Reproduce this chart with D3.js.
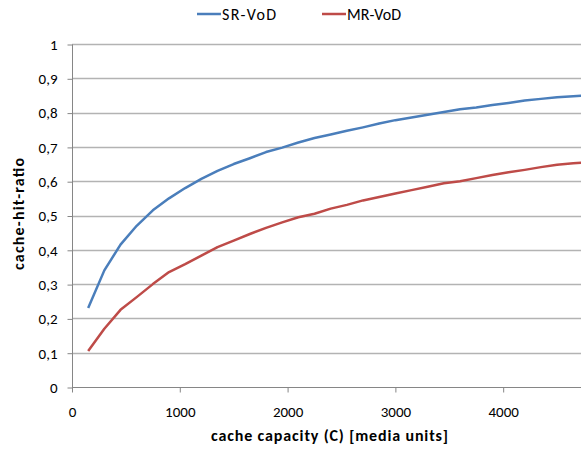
<!DOCTYPE html>
<html>
<head>
<meta charset="utf-8">
<script src="https://cdn.jsdelivr.net/npm/d3@7"></script>
<style>
  body { margin: 0; background: #fff; }
  svg text { font-family: Carlito, "Open Sans", "Liberation Sans", sans-serif; fill: #000; }
</style>
</head>
<body>
<div id="chart"></div>
<script>
// capacity steps (media units)
var capacity = [150, 300, 450, 600, 750, 900, 1050, 1200, 1350, 1500, 1650, 1800, 1950, 2100, 2250, 2400,
  2550, 2700, 2850, 3000, 3150, 3300, 3450, 3600, 3750, 3900, 4050, 4200, 4350, 4500, 4650, 4800];
var srVod = [0.23, 0.34, 0.415, 0.47, 0.515, 0.55, 0.58, 0.607, 0.63, 0.65, 0.667, 0.685, 0.698, 0.713, 0.726, 0.736,
  0.747, 0.757, 0.768, 0.778, 0.786, 0.794, 0.802, 0.81, 0.815, 0.822, 0.828, 0.835, 0.84, 0.845, 0.848, 0.851];
var mrVod = [0.105, 0.17, 0.225, 0.262, 0.3, 0.335, 0.358, 0.383, 0.408, 0.427, 0.446, 0.464, 0.48, 0.495, 0.505, 0.52,
  0.531, 0.544, 0.554, 0.564, 0.574, 0.584, 0.594, 0.6, 0.609, 0.618, 0.626, 0.633, 0.641, 0.648, 0.652, 0.656];
var seriesNames = ["SR-VoD", "MR-VoD"];
var seriesColors = ["#4a7ebb", "#be4b48"];
var xTicks = [0, 1000, 2000, 3000, 4000];
var yTicks = [0, 0.1, 0.2, 0.3, 0.4, 0.5, 0.6, 0.7, 0.8, 0.9, 1];

var width = 581, height = 457;
var plotLeft = 72, plotTop = 44, plotBottom = 387;

var svg = d3.select("#chart").append("svg")
  .attr("width", width).attr("height", height);

var x = d3.scaleLinear().domain([0, 4722]).range([plotLeft, width]);
var y = d3.scaleLinear().domain([0, 1]).range([plotBottom, plotTop]);

svg.append("defs").append("clipPath").attr("id", "plotclip")
  .append("rect").attr("x", plotLeft).attr("y", 0).attr("width", width - plotLeft).attr("height", height);

// gridlines
svg.append("g").selectAll("line").data(yTicks.slice(1)).enter().append("line")
  .attr("x1", plotLeft).attr("x2", width)
  .attr("y1", function(d){ return Math.round(y(d)) + 0.5; })
  .attr("y2", function(d){ return Math.round(y(d)) + 0.5; })
  .attr("stroke", "#b3b3b3").attr("stroke-width", 1.3);

// y axis
var yAxis = svg.append("g").attr("transform", "translate(" + (plotLeft + 0.5) + ",0.5)")
  .call(d3.axisLeft(y).tickValues(yTicks).tickSize(5).tickPadding(10)
    .tickFormat(function(d){ return d3.format("~g")(d).replace(".", ","); }));
yAxis.select(".domain").attr("stroke", "#868686").attr("d", "M0," + y(1) + "V" + y(0));
yAxis.selectAll(".tick line").attr("stroke", "#868686");
yAxis.selectAll("text").style("font-size", "15px");

// x axis
var xAxis = svg.append("g").attr("transform", "translate(0," + (plotBottom + 0.5) + ")")
  .call(d3.axisBottom(x).tickValues(xTicks).tickSize(5).tickPadding(14).tickFormat(d3.format("d")));
xAxis.select(".domain").attr("stroke", "#868686").attr("d", "M" + plotLeft + ",0H" + width);
xAxis.selectAll(".tick line").attr("stroke", "#868686");
xAxis.selectAll("text").style("font-size", "15px");

// lines
var line = d3.line()
  .x(function(d){ return x(d[0]); })
  .y(function(d){ return y(d[1]); });

[srVod, mrVod].forEach(function(vals, i){
  svg.append("path")
    .datum(capacity.map(function(c, j){ return [c, vals[j]]; }))
    .attr("clip-path", "url(#plotclip)")
    .attr("fill", "none")
    .attr("stroke", seriesColors[i])
    .attr("stroke-width", 2.5)
    .attr("stroke-linejoin", "round")
    .attr("d", line);
});

// axis titles
svg.append("text")
  .attr("x", 211).attr("y", 441)
  .attr("textLength", 237).attr("lengthAdjust", "spacing")
  .style("font-size", "16px").style("font-weight", "bold")
  .text("cache capacity  (C) [media  units]");

svg.append("text")
  .attr("transform", "translate(24,270) rotate(-90)")
  .attr("textLength", 112).attr("lengthAdjust", "spacing")
  .style("font-size", "16px").style("font-weight", "bold")
  .text("cache-hit-ratio");

// legend
var legendX = [197, 322];
var legend = svg.append("g");
seriesNames.forEach(function(name, i){
  legend.append("line")
    .attr("x1", legendX[i]).attr("x2", legendX[i] + 24)
    .attr("y1", 14).attr("y2", 14)
    .attr("stroke", seriesColors[i]).attr("stroke-width", 2.5);
  legend.append("text")
    .attr("x", legendX[i] + 25).attr("y", 19.5)
    .attr("textLength", 54).attr("lengthAdjust", "spacing")
    .style("font-size", "16px")
    .text(name);
});
</script>
</body>
</html>
